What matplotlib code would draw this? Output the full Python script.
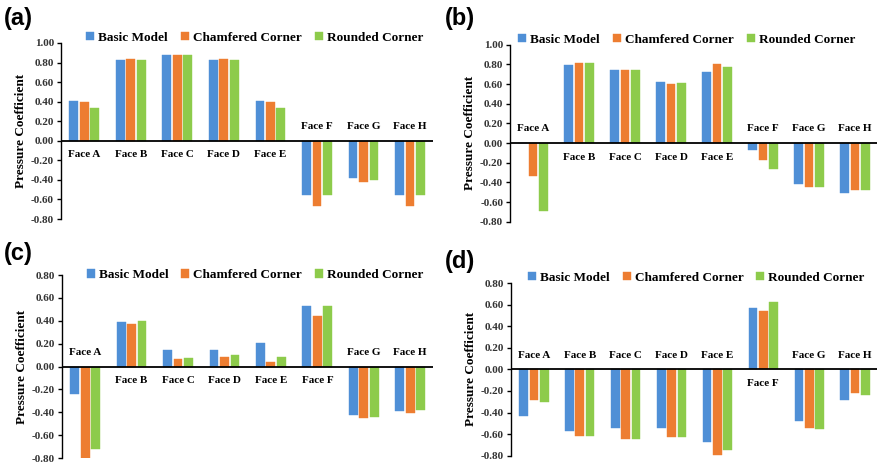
import matplotlib.pyplot as plt
import numpy as np

caras = ["Face A", "Face B", "Face C", "Face D", "Face E", "Face F", "Face G", "Face H"]
series = ["Basic Model", "Chamfered Corner", "Rounded Corner"]
colores = ["#4F8FD6", "#ED7D31", "#8DCB4B"]

# valores (basic, chamfered, rounded)
a_basic = [0.41, 0.83, 0.875, 0.83, 0.41, -0.555, -0.38, -0.555]
a_chamf = [0.40, 0.84, 0.88, 0.84, 0.40, -0.67, -0.425, -0.67]
a_round = [0.34, 0.83, 0.88, 0.83, 0.34, -0.555, -0.40, -0.555]

b_basic = [0.0, 0.79, 0.74, 0.62, 0.725, -0.07, -0.42, -0.505]
b_chamf = [-0.335, 0.82, 0.74, 0.605, 0.81, -0.17, -0.45, -0.48]
b_round = [-0.69, 0.82, 0.745, 0.61, 0.775, -0.26, -0.45, -0.475]

c_basic = [-0.24, 0.39, 0.145, 0.145, 0.205, 0.533, -0.426, -0.39]
c_chamf = [-0.795, 0.37, 0.07, 0.08, 0.04, 0.443, -0.446, -0.406]
c_round = [-0.72, 0.40, 0.075, 0.105, 0.087, 0.533, -0.44, -0.377]

d_basic = [-0.43, -0.57, -0.54, -0.545, -0.67, 0.565, -0.475, -0.28]
d_chamf = [-0.285, -0.62, -0.645, -0.625, -0.795, 0.545, -0.545, -0.22]
d_round = [-0.30, -0.615, -0.64, -0.625, -0.75, 0.625, -0.55, -0.24]

# letra, datos, limites y, posicion de ejes, posicion leyenda, posicion letra
paneles = [
    ("(a)", [a_basic, a_chamf, a_round], (-0.8, 1.0), [0.0695, 0.531, 0.424, 0.377], (0.52, 1.03), (0.004, 0.935)),
    ("(b)", [b_basic, b_chamf, b_round], (-0.8, 1.0), [0.581, 0.525, 0.419, 0.379], (0.48, 1.03), (0.507, 0.935)),
    ("(c)", [c_basic, c_chamf, c_round], (-0.8, 0.8), [0.0706, 0.019, 0.423, 0.392], (0.52, 1.0), (0.004, 0.432)),
    ("(d)", [d_basic, d_chamf, d_round], (-0.8, 0.8), [0.582, 0.024, 0.418, 0.370], (0.505, 1.03), (0.507, 0.415)),
]

serif = "Liberation Serif"

fig = plt.figure(figsize=(8.78, 4.67), dpi=100)

for letra, datos, ylim, pos, leg_pos, letra_pos in paneles:
    ax = fig.add_axes(pos)
    x = np.arange(len(caras))
    ancho = 0.19
    for i, (vals, col, nombre) in enumerate(zip(datos, colores, series)):
        ax.bar(x + (i - 1) * 0.225, vals, ancho, color=col, label=nombre,
               edgecolor=col, linewidth=0.3, zorder=2)
    ax.axhline(0, color="black", lw=1.3, zorder=3)
    ax.set_xlim(-0.5, len(caras) - 0.5)
    ax.set_ylim(ylim)
    ticks = np.round(np.arange(ylim[0], ylim[1] + 0.01, 0.2), 2)
    ticks[ticks == 0] = 0.0
    ax.set_yticks(ticks)
    ax.set_yticklabels([f"{abs(v):.2f}" if abs(v) < 1e-9 else f"{v:.2f}" for v in ticks],
                       family=serif, fontweight="bold", fontsize=8, color="#333333")
    ax.set_xticks([])
    for s in ["top", "right", "bottom"]:
        ax.spines[s].set_visible(False)
    ax.spines["left"].set_linewidth(1.0)
    ax.tick_params(axis="y", direction="out", length=3, width=1, pad=2)
    ax.set_ylabel("Pressure Coefficient", family=serif, fontweight="bold", fontsize=9.5, labelpad=3)

    # etiquetas de cara al otro lado de las barras
    for xi, nombre in enumerate(caras):
        media = np.mean([d[xi] for d in datos])
        if media >= 0:
            ax.annotate(nombre, (xi, 0), xytext=(0, -7), textcoords="offset points",
                        ha="center", va="top", family=serif, fontweight="bold", fontsize=8)
        else:
            ax.annotate(nombre, (xi, 0), xytext=(0, 7), textcoords="offset points",
                        ha="center", va="bottom", family=serif, fontweight="bold", fontsize=8)

    ax.legend(loc="center", bbox_to_anchor=leg_pos, ncol=3, frameon=False,
              prop={"family": serif, "weight": "bold", "size": 9.5},
              handlelength=0.6, handleheight=0.6, handletextpad=0.3, columnspacing=1.0)

    fig.text(letra_pos[0], letra_pos[1], letra, family="Liberation Sans",
             fontweight="bold", fontsize=17, ha="left", va="bottom")

fig.savefig("out.png", dpi=100)
